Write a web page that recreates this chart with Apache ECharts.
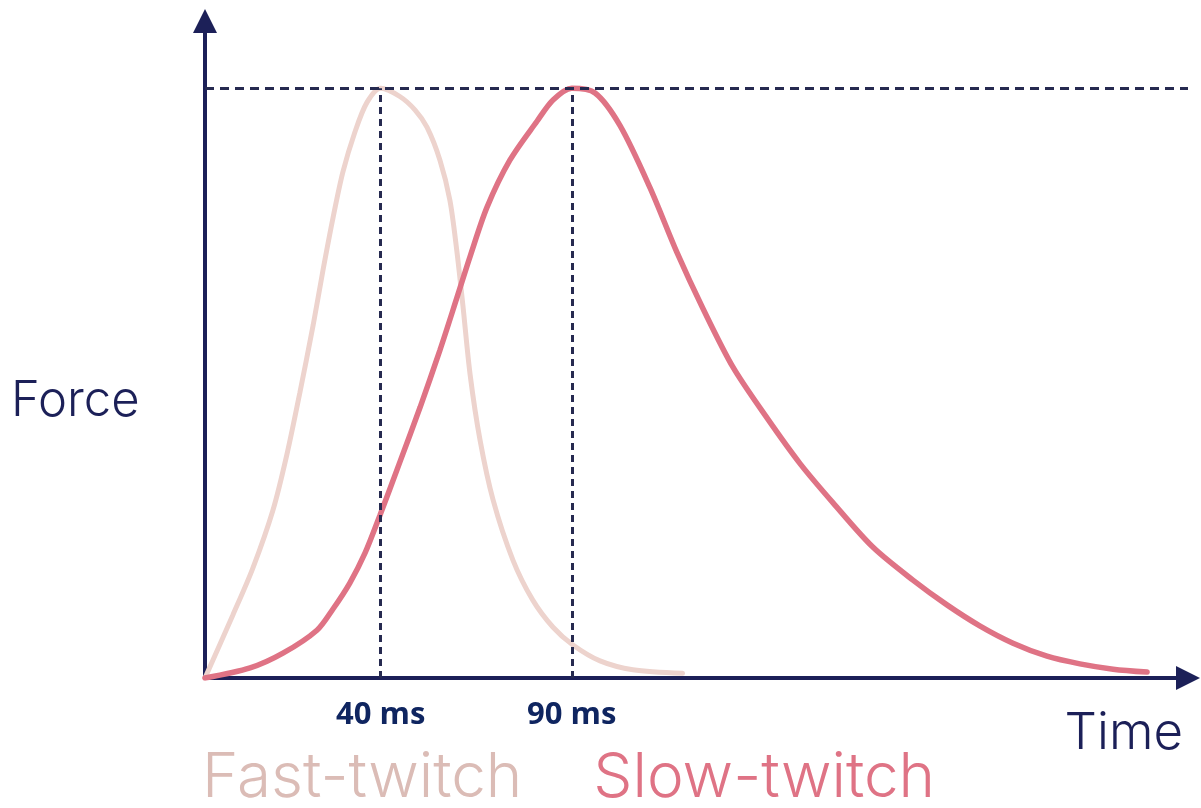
<!DOCTYPE html>
<html>
<head>
<meta charset="utf-8">
<script src="https://cdn.jsdelivr.net/npm/echarts@6/dist/echarts.min.js"></script>
<style>
  html, body { margin: 0; padding: 0; background: #fff; }
  #chart { width: 1201px; height: 808px; }
</style>
</head>
<body>
<div id="chart"></div>
<script>
// time in ms, force in % of peak
var fastTime  = [-6, 1.3, 6.5, 11.8, 15.4, 18.8, 22.3, 24.9, 27.5, 30.1, 33.2, 36.4, 40, 45, 49, 52.1, 55.5, 58.1, 59.9, 61.5, 63.4, 66, 69.4, 74.6, 79.8, 85.1, 90.3, 97.4, 106, 119];
var fastForce = [0, 10.7, 18.6, 28.5, 37.8, 48.3, 59.8, 69.2, 78, 85.8, 92.5, 97.6, 100, 98.6, 96.3, 93.4, 87.8, 81, 72.5, 63.2, 51.4, 40.3, 30.2, 20, 13.2, 8.6, 5.6, 2.9, 1.4, 0.8];

var slowTime  = [-6, 5.8, 14.4, 23.3, 27.5, 31.9, 35.9, 39.8, 45, 50.3, 55.5, 59.9, 63.4, 67.8, 73.8, 80.9, 85.1, 90, 96.1, 102.6, 110.5, 117.5, 124.3, 132.2, 141.1, 149.7, 158.4, 168.8, 179.3, 188.2, 196.9, 205.5, 214.4, 223, 231.7, 240.6];
var slowForce = [0, 1.7, 4.2, 8.1, 11.7, 16.1, 21.2, 27.6, 36.6, 45.9, 55.6, 64.4, 71.5, 79.8, 87.8, 94.4, 98, 100, 99.2, 93.7, 83.1, 72.2, 62.7, 52.7, 44.1, 36.4, 29.7, 22.2, 16.6, 12.4, 8.8, 5.9, 3.7, 2.4, 1.5, 1];

var peakTimes = [40, 90];
var peakForce = 100;
var xMin = -6, xMax = 251.3, yMax = 111.4;

var navy = '#1c2058';
var fastColor = '#edd3cd';
var slowColor = '#df7385';

function pairs(xs, ys) {
  return xs.map(function (x, i) { return [x, ys[i]]; });
}

var guideLines = peakTimes.map(function (t) {
  return [{ coord: [t, 0] }, { coord: [t, peakForce] }];
});
guideLines.push([{ coord: [xMin, peakForce], lineStyle: { type: [9, 6] } }, { coord: [xMax, peakForce] }]);

var myChart = echarts.init(document.getElementById('chart'));
var option = {
  animation: false,
  grid: { left: 205, right: 13, top: 21, bottom: 130 },
  xAxis: {
    type: 'value',
    min: xMin,
    max: xMax,
    splitLine: { show: false },
    axisTick: { show: false },
    axisLine: {
      onZero: false,
      symbol: ['none', 'triangle'],
      symbolSize: [24, 24],
      lineStyle: { color: navy, width: 4 }
    },
    axisLabel: {
      customValues: peakTimes,
      formatter: '{value} ms',
      margin: 22,
      color: '#0f2560',
      fontFamily: 'Open Sans',
      fontWeight: 'bold',
      fontSize: 31
    }
  },
  yAxis: {
    type: 'value',
    min: 0,
    max: yMax,
    splitLine: { show: false },
    axisTick: { show: false },
    axisLabel: { show: false },
    axisLine: {
      show: true,
      onZero: false,
      symbol: ['none', 'triangle'],
      symbolSize: [24, 24],
      lineStyle: { color: navy, width: 4 }
    }
  },
  legend: {
    left: 192,
    top: 742,
    itemWidth: 0,
    itemHeight: 0,
    itemGap: 66,
    selectedMode: false,
    textStyle: { fontFamily: 'Inter', fontWeight: 300, fontSize: 62 },
    data: [
      { name: 'Fast-twitch', icon: 'none', textStyle: { color: '#dbbcb6' } },
      { name: 'Slow-twitch', icon: 'none', textStyle: { color: slowColor } }
    ]
  },
  graphic: [
    {
      type: 'text',
      left: 11,
      top: 377,
      style: { text: 'Force', fill: navy, font: '300 49px Inter' }
    },
    {
      type: 'text',
      right: 18,
      top: 708,
      style: { text: 'Time', fill: navy, font: '300 51px Inter' }
    }
  ],
  series: [
    {
      name: 'Fast-twitch',
      type: 'line',
      data: pairs(fastTime, fastForce),
      smooth: 0.3,
      showSymbol: false,
      color: fastColor,
      lineStyle: { color: fastColor, width: 5, cap: 'round' },
      z: 2,
      markLine: {
        silent: true,
        symbol: ['none', 'none'],
        label: { show: false },
        lineStyle: { color: '#262a50', width: 3, type: [7, 5] },
        data: guideLines
      }
    },
    {
      name: 'Slow-twitch',
      type: 'line',
      data: pairs(slowTime, slowForce),
      smooth: 0.3,
      showSymbol: false,
      color: slowColor,
      lineStyle: { color: slowColor, width: 5.5, cap: 'round' },
      z: 3
    }
  ]
};
option && myChart.setOption(option);
</script>
</body>
</html>
